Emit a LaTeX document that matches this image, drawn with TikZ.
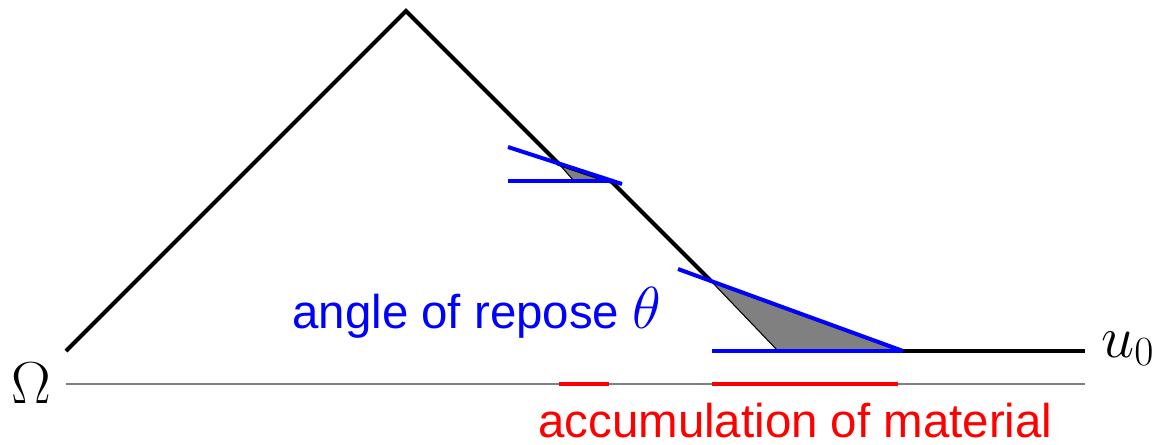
\documentclass[tikz,border=0pt]{standalone}
\usepackage{fix-cm}
\usepackage{graphicx}
\usepackage{fontspec}
\newfontfamily\helv{Liberation Sans}
\begin{document}
\begin{tikzpicture}[x=0.02cm,y=-0.02cm,
  profile/.style={line width=0.08cm, black},
  repose/.style={line width=0.08cm, blue},
  accum/.style={line width=0.08cm, red},
  ground/.style={line width=0.04cm, gray},
  lbl/.style={inner sep=0pt, anchor=base west, font=\fontsize{27}{32}\selectfont},
  mlbl/.style={lbl, scale=1.25}]
\useasboundingbox (0,0) rectangle (1153,444);
% coordinates
\coordinate (L) at (66,351);
\coordinate (P) at (406,11);
\coordinate (A1) at (559,164);
\coordinate (B1) at (574,181);
\coordinate (C1) at (610,181);
\coordinate (D1) at (612,182);
\coordinate (A2) at (711,281);
\coordinate (B2) at (778,351);
\coordinate (C2) at (903,351);
\coordinate (R) at (1085,351);
% ground line
\coordinate (G0) at (66,384);
\coordinate (G1) at (1085,384);
\draw[ground] (G0) -- (G1);
% accumulation marks
\coordinate (r1a) at (559,384);
\coordinate (r1b) at (609,384);
\coordinate (r2a) at (712,384);
\coordinate (r2b) at (898,384);
\draw[accum] (r1a) -- (r1b);
\draw[accum] (r2a) -- (r2b);
% grey accumulated material
\fill[gray] (A1) -- (B1) -- (C1) -- cycle;
\draw[black, line width=0.6pt] (A1) -- (B1);
\fill[gray] (A2) -- (B2) -- (C2) -- cycle;
\draw[black, line width=0.6pt] (A2) -- (B2);
% profile
\draw[profile] (L) -- (P) -- (A1) -- (D1) -- (A2);
\draw[profile] (C2) -- (R);
% repose lines
\coordinate (s1a) at (508,147);
\coordinate (s1b) at (622,184);
\coordinate (h1a) at (508,181);
\coordinate (h1b) at (612,181);
\draw[repose] (s1a) -- (s1b);
\draw[repose] (h1a) -- (h1b);
\coordinate (s2a) at (678,269);
\coordinate (h2a) at (712,351);
\draw[repose] (s2a) -- (C2);
\draw[repose] (h2a) -- (C2);
% labels
\node[lbl, blue] (angle) at (292,328) {\helv angle of repose \scalebox{1.25}{$\theta$}};
\node[lbl, red, text depth=0pt] (accum) at (538,437) {\helv accumulation of material};
\node[mlbl] (omega) at (11,403) {$\Omega$};
\node[mlbl] (u0) at (1101,357) {$u_0$};
\end{tikzpicture}
\end{document}
